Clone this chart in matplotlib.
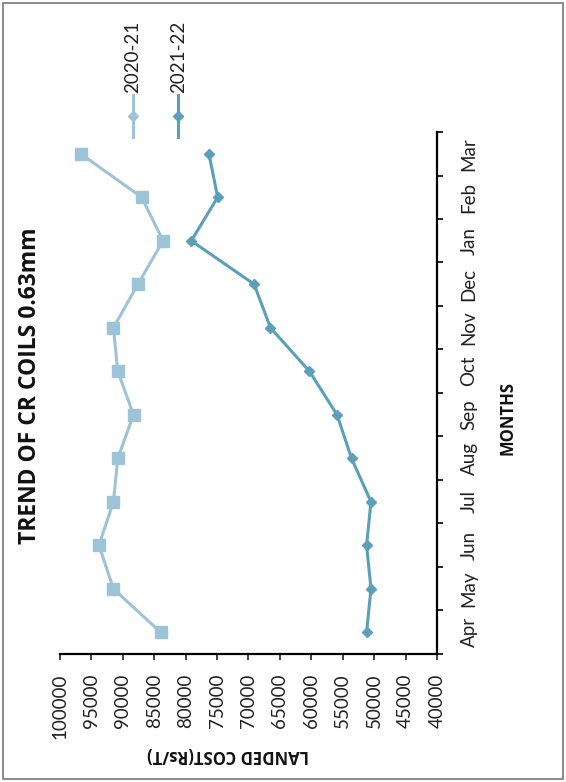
import matplotlib.pyplot as plt
from matplotlib.lines import Line2D
from matplotlib.patches import Rectangle

months = ['Apr', 'May', 'Jun', 'Jul', 'Aug', 'Sep', 'Oct', 'Nov', 'Dec', 'Jan', 'Feb', 'Mar']
cost_2020_21 = [84000, 91500, 93800, 91500, 90800, 88300, 90800, 91500, 87600, 83600, 87000, 96700]
cost_2021_22 = [51200, 50500, 51200, 50500, 53600, 55900, 60300, 66500, 69100, 79100, 74900, 76300]
cost_ticks = list(range(100000, 35000, -5000))

light = '#9DC3D7'
dark = '#5B9FBA'

plt.rcParams['font.family'] = ['Lato', 'DejaVu Sans']
bold_font = ['Open Sans', 'DejaVu Sans']

fig = plt.figure(figsize=(5.66, 7.82), dpi=100)
# chart is drawn turned a quarter turn: cost runs right to left, months bottom to top
ax = fig.add_axes([0.106, 0.1637, 0.666, 0.6675])

pos = list(range(len(months)))
ax.plot(cost_2020_21, pos, color=light, lw=2.2, marker='s', ms=9, zorder=3)
ax.plot(cost_2021_22, pos, color=dark, lw=2.2, marker='D', ms=5.5, zorder=3)

ax.set_xlim(100000, 40000)
ax.set_ylim(-0.5, len(months) - 0.5)

ax.spines['left'].set_visible(False)
ax.spines['top'].set_visible(False)
ax.spines['right'].set_linewidth(1.6)
ax.spines['bottom'].set_linewidth(1.6)

ax.set_xticks(cost_ticks)
ax.set_xticklabels([str(v) for v in cost_ticks], rotation=90, fontsize=13.5)
ax.tick_params(axis='x', direction='out', length=4, width=1.2, pad=10, colors='#222222')

ax.yaxis.tick_right()
ax.set_yticks([i - 0.5 for i in range(len(months) + 1)])
ax.set_yticklabels([])
ax.set_yticks(pos, minor=True)
ax.set_yticklabels(months, minor=True, rotation=90, fontsize=13.5, va='center')
ax.tick_params(axis='y', which='major', direction='out', length=4, width=1.2)
ax.tick_params(axis='y', which='minor', length=0, pad=17, colors='#222222')

fig.text(0.053, 0.507, 'TREND OF CR COILS 0.63mm', rotation=90, ha='center', va='center',
         fontsize=16.5, fontweight='bold', color='#111111', family=bold_font)
fig.text(0.897, 0.465, 'MONTHS', rotation=90, ha='center', va='center',
         fontsize=12, fontweight='bold', color='#111111', family=bold_font)
fig.text(0.403, 0.035, 'LANDED COST(Rs/T)', rotation=180, ha='center', va='center',
         fontsize=12, fontweight='bold', color='#111111', family=bold_font)

# legend laid out by hand, turned like the chart
for x, c, lab in [(0.235, light, '2020-21'), (0.315, dark, '2021-22')]:
    fig.add_artist(Line2D([x, x], [1 - 137 / 782, 1 - 95 / 782], color=c, lw=2.2,
                          transform=fig.transFigure))
    fig.add_artist(Line2D([x], [1 - 116 / 782], color=c, marker='D', ms=5,
                          transform=fig.transFigure))
    fig.text(x, 1 - 93 / 782, lab, rotation=90, ha='center', va='bottom',
             fontsize=13.5, color='#222222')

fig.add_artist(Rectangle((0.005, 0.004), 0.99, 0.992, transform=fig.transFigure,
                         fill=False, edgecolor='#777777', lw=1.2))

fig.savefig('out.png', dpi=100)
